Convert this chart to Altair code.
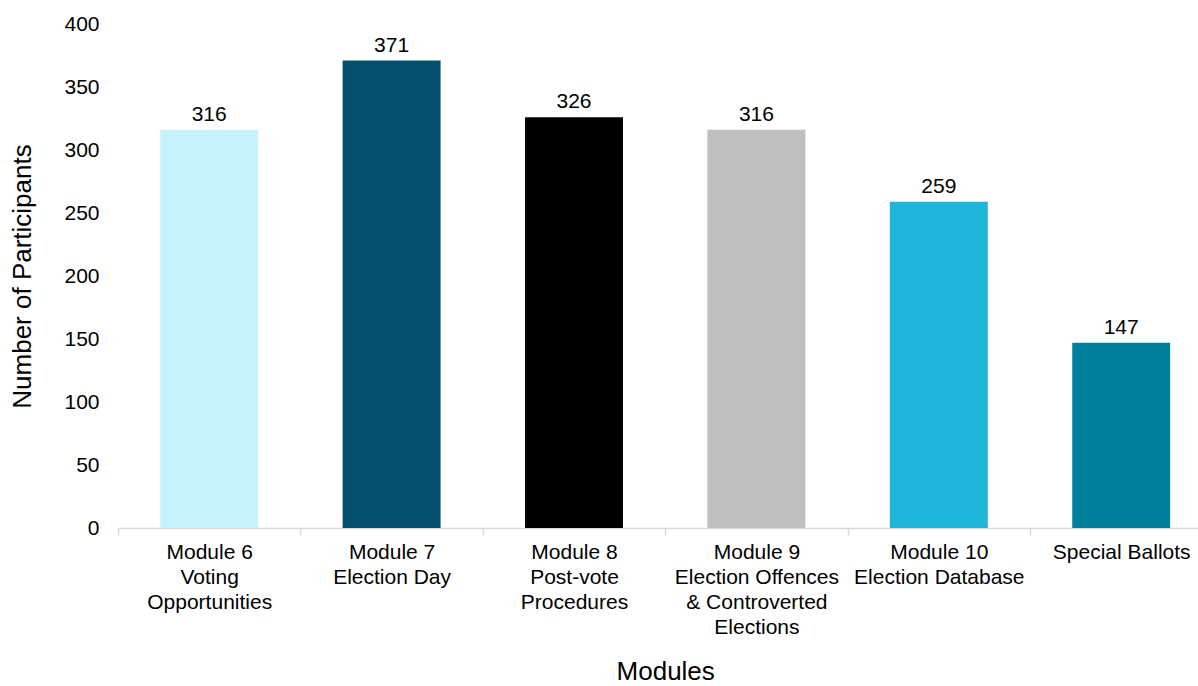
import altair as alt
import pandas as pd

categories = [
    "Module 6|Voting|Opportunities",
    "Module 7|Election Day",
    "Module 8|Post-vote|Procedures",
    "Module 9|Election Offences|& Controverted|Elections",
    "Module 10|Election Database",
    "Special Ballots",
]
values = [316, 371, 326, 316, 259, 147]
colors = ["#C6F2FC", "#02506E", "#000000", "#BFBFBF", "#1FB4D9", "#00809D"]

df = pd.DataFrame({"module": categories, "participants": values, "color": colors})

FONT = "Liberation Sans"

x = alt.X(
    "module:N",
    sort=categories,
    scale=alt.Scale(range=[0, 1094.4], paddingInner=0, paddingOuter=0),
    axis=alt.Axis(
        title="Modules",
        labelExpr="split(datum.label, '|')",
        labelAngle=0,
        labelFont=FONT,
        labelFontSize=21,
        labelColor="#000000",
        labelLineHeight=25,
        labelPadding=6,
        labelBaseline="top",
        tickBand="extent",
        tickSize=7,
        tickColor="#D9D9D9",
        tickWidth=1.5,
        domainColor="#D9D9D9",
        domainWidth=1.5,
        titleFont=FONT,
        titleFontSize=26,
        titleFontWeight="normal",
        titleColor="#000000",
        titlePadding=21,
    ),
)

y_scale = alt.Scale(domain=[0, 400], nice=False)

bars = alt.Chart(df).mark_bar(width=alt.RelativeBandSize(0.537)).encode(
    x=x,
    y=alt.Y(
        "participants:Q",
        scale=y_scale,
        axis=alt.Axis(
            title="Number of Participants",
            values=[0, 50, 100, 150, 200, 250, 300, 350, 400],
            grid=False,
            domain=False,
            ticks=False,
            labelFont=FONT,
            labelFontSize=21,
            labelColor="#000000",
            labelPadding=19,
            titleFont=FONT,
            titleFontSize=26,
            titleFontWeight="normal",
            titleColor="#000000",
            titlePadding=28,
        ),
    ),
    color=alt.Color("color:N", scale=None),
)

labels = alt.Chart(df).mark_text(
    font=FONT, fontSize=21, color="#000000", baseline="bottom", dy=-5
).encode(
    x=alt.X("module:N", sort=categories),
    y=alt.Y("participants:Q", scale=y_scale),
    text=alt.Text("participants:Q"),
)

chart = (
    alt.layer(bars, labels)
    .properties(
        width=1080,
        height=504,
        autosize=alt.AutoSizeParams(type="none"),
        padding={"left": 118, "top": 24, "right": 0, "bottom": 158},
        background="white",
    )
    .configure_view(stroke=None)
)

chart.save("out.html", embed_options={"renderer": "svg", "actions": False})
